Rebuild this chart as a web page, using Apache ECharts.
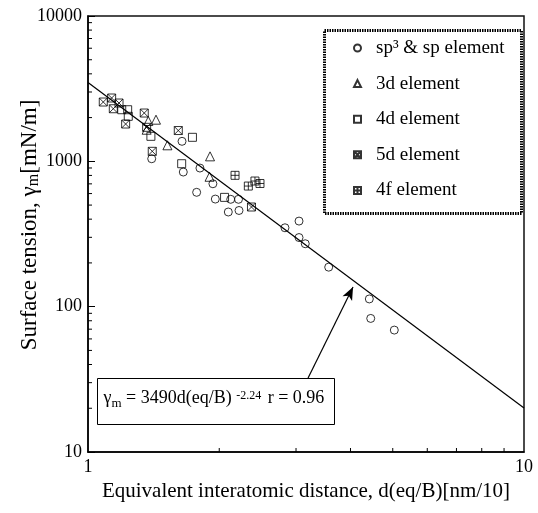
<!DOCTYPE html>
<html>
<head>
<meta charset="utf-8">
<script src="https://cdn.jsdelivr.net/npm/echarts@6/dist/echarts.min.js"></script>
<style>
  html, body { margin: 0; padding: 0; background: #fff; }
  #chart { width: 538px; height: 513px; }
</style>
</head>
<body>
<div id="chart"></div>
<script>
// Surface tension vs. equivalent interatomic distance (log-log)
const FONT = "'Liberation Serif', 'Times New Roman', serif";

const seriesNames = ['sp³ & sp element', '3d element', '4d element', '5d element', '4f element'];

// [d(eq/B), γm] pairs
const spData = [[1.400, 1042], [1.643, 1373], [1.654, 844], [1.806, 899], [1.934, 701], [1.775, 612],
  [1.959, 550], [2.125, 548], [2.214, 548], [2.098, 448], [2.220, 459], [2.830, 349], [3.048, 388],
  [3.048, 299], [3.150, 271], [3.565, 187], [4.418, 113], [4.451, 83], [5.041, 69]];
const d3Data = [[1.375, 1894], [1.432, 1934], [1.363, 1650], [1.521, 1289], [1.905, 1082], [1.900, 783]];
const d4Data = [[1.195, 2265], [1.233, 2265], [1.237, 2040], [1.394, 1486], [1.736, 1463], [1.640, 963], [2.057, 565]];
const d5Data = [[1.084, 2559], [1.133, 2727], [1.178, 2519], [1.143, 2301], [1.220, 1806], [1.346, 2150],
  [1.363, 1714], [1.404, 1172], [1.611, 1629], [2.371, 485]];
const f4Data = [[2.174, 801], [2.332, 676], [2.415, 732], [2.480, 704]];

// regression γm = A · d^B
const FIT_A = 3490;
const FIT_B = -2.24;
const FIT_R = 0.96;
const fitRange = [1, 10];

// axis extents and minor tick positions
const xRange = [1, 10];
const yRange = [10, 10000];
const minorSteps = [2, 3, 4, 5, 6, 7, 8, 9];
const yDecades = [10, 100, 1000];

const fitData = fitRange.map(d => [d, FIT_A * Math.pow(d, FIT_B)]);
const xMinor = minorSteps.map(s => [s * xRange[0], yRange[0]]);
const yMinor = [];
yDecades.forEach(dec => minorSteps.forEach(s => yMinor.push([xRange[0], s * dec])));

const symbols = {
  circle: 'circle',
  tri: 'triangle',
  sq: 'rect',
  sqX: 'path://M0,0H10V10H0Z M0,0L10,10 M10,0L0,10',
  sqPlus: 'path://M0,0H10V10H0Z M5,0V10 M0,5H10'
};

const hollow = { color: 'rgba(255,255,255,0)', borderColor: '#000', borderWidth: 1 };

function scatter(name, data, symbol, size) {
  return {
    name, type: 'scatter', data, symbol, symbolSize: size,
    itemStyle: hollow, z: 3
  };
}

// short inward tick marks placed through the axis scales
function tickSeries(data, dx, dy) {
  return {
    type: 'custom', data, silent: true, z: 6, clip: false,
    encode: { x: 0, y: 1 },
    renderItem: (params, api) => {
      const p = api.coord([api.value(0), api.value(1)]);
      return {
        type: 'line',
        shape: { x1: p[0], y1: p[1], x2: p[0] + dx, y2: p[1] + dy },
        style: { stroke: '#000', lineWidth: 1 }
      };
    }
  };
}

const chart = echarts.init(document.getElementById('chart'));

chart.setOption({
  animation: false,
  backgroundColor: '#fff',
  grid: {
    left: 88, right: 14, top: 16, bottom: 61, containLabel: false, outerBoundsMode: 'none',
    show: true, borderColor: '#111', borderWidth: 1.5
  },
  xAxis: {
    type: 'log', logBase: 10, min: xRange[0], max: xRange[1],
    axisLine: { lineStyle: { color: '#000', width: 1.5 } },
    axisTick: { show: false },
    splitLine: { show: false },
    axisLabel: { color: '#000', fontFamily: FONT, fontSize: 18, margin: 6, formatter: v => String(v) },
    name: 'Equivalent interatomic distance, d(eq/B)[nm/10]',
    nameLocation: 'middle', nameGap: 29,
    nameTextStyle: { color: '#000', fontFamily: FONT, fontSize: 21 }
  },
  yAxis: {
    type: 'log', logBase: 10, min: yRange[0], max: yRange[1],
    axisLine: { lineStyle: { color: '#000', width: 1.5 } },
    axisTick: { show: true, inside: true, length: 7, lineStyle: { color: '#000', width: 1 } },
    splitLine: { show: false },
    axisLabel: { color: '#000', fontFamily: FONT, fontSize: 18, margin: 6, formatter: v => String(v) }
  },
  legend: {
    orient: 'vertical', left: 348, top: 33,
    data: seriesNames,
    itemWidth: 7, itemHeight: 7, itemGap: 15.6,
    textStyle: { color: '#000', fontFamily: FONT, fontSize: 19, lineHeight: 20, padding: [0, 0, 0, 10] }
  },
  series: [
    scatter(seriesNames[0], spData, symbols.circle, 8),
    scatter(seriesNames[1], d3Data, symbols.tri, 9),
    scatter(seriesNames[2], d4Data, symbols.sq, 8),
    scatter(seriesNames[3], d5Data, symbols.sqX, 8),
    scatter(seriesNames[4], f4Data, symbols.sqPlus, 8),
    {
      name: 'fit', type: 'line', data: fitData, showSymbol: false, silent: true,
      lineStyle: { color: '#000', width: 1.2 }, z: 2,
      markLine: {
        silent: true, symbol: ['none', 'arrow'], symbolSize: [8, 13],
        lineStyle: { color: '#000', width: 1.2, type: 'solid' },
        label: { show: false },
        data: [[{ coord: [3.197, 32.3] }, { coord: [4.054, 136.4] }]]
      }
    },
    tickSeries(xMinor, 0, -4),
    tickSeries(yMinor, 4, 0)
  ],
  graphic: [
    {
      // y-axis title, rotated
      type: 'text', x: 30, y: 225, rotation: Math.PI / 2, silent: true,
      style: {
        text: '{a|Surface tension, γ}{s|m}{a|[mN/m]}',
        align: 'center', verticalAlign: 'middle',
        rich: {
          a: { fontFamily: FONT, fontSize: 23, fill: '#000', verticalAlign: 'bottom' },
          s: { fontFamily: FONT, fontSize: 16, fill: '#000', verticalAlign: 'bottom' }
        }
      }
    },
    {
      type: 'rect', left: 322, top: 28, silent: true, z: 10,
      shape: { width: 197, height: 183 },
      style: { fill: 'none', stroke: '#000', lineWidth: 3, lineDash: [1.5, 1] }
    },
    {
      type: 'group', left: 97, top: 378, silent: true, z: 10,
      children: [
        {
          type: 'rect', shape: { width: 237, height: 46 },
          style: { fill: '#fff', stroke: '#000', lineWidth: 1 }
        },
        {
          type: 'text', left: 6, top: 11,
          style: {
            text: '{g|γ}{sub|m}{g| = 3490d(eq/B) }{sup|-2.24}{g| r = ' + FIT_R.toFixed(2) + '}',
            rich: {
              g: { fontFamily: FONT, fontSize: 18, fill: '#000', verticalAlign: 'bottom' },
              sub: { fontFamily: FONT, fontSize: 13, fill: '#000', verticalAlign: 'bottom', padding: [0, 0, -3, 0] },
              sup: { fontFamily: FONT, fontSize: 12, fill: '#000', verticalAlign: 'top', padding: [0, 2, 6, 0] }
            }
          }
        }
      ]
    }
  ]
});
</script>
</body>
</html>
